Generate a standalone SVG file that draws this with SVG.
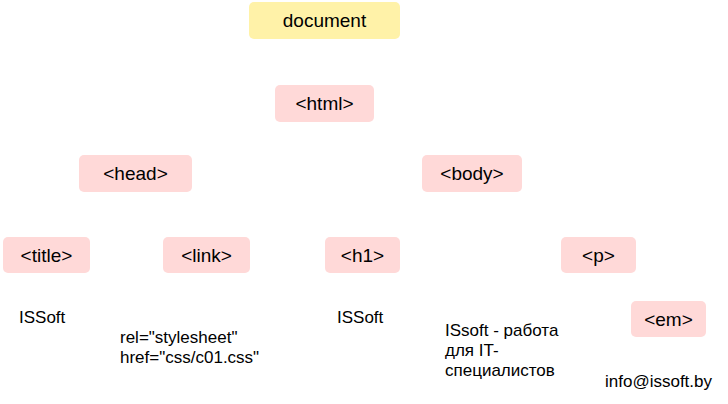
<svg xmlns="http://www.w3.org/2000/svg" width="728" height="404" viewBox="0 0 728 404">
<style>
.n{fill:#ffd9d8}
.d{fill:#fff2a8}
.l{font-family:"Liberation Sans",Arial,sans-serif;font-size:19px;fill:#000;text-anchor:middle}
.t{font-family:"Liberation Sans",Arial,sans-serif;font-size:17px;fill:#000}
</style>
<rect width="728" height="404" fill="#fff"/>
<g id="connectors"></g>
<g id="document"><rect class="d" x="249" y="2" width="151" height="37" rx="5"/><text class="l" x="324.5" y="27">document</text></g>
<g id="html"><rect class="n" x="275" y="85" width="99" height="37" rx="5"/><text class="l" x="324.5" y="110">&lt;html&gt;</text></g>
<g id="head"><rect class="n" x="79" y="155" width="113" height="37" rx="5"/><text class="l" x="135.5" y="180">&lt;head&gt;</text></g>
<g id="body"><rect class="n" x="422" y="155" width="100" height="37" rx="5"/><text class="l" x="472" y="180">&lt;body&gt;</text></g>
<g id="title"><rect class="n" x="3" y="237" width="87" height="36" rx="5"/><text class="l" x="46.5" y="262">&lt;title&gt;</text></g>
<g id="link"><rect class="n" x="163" y="237" width="87" height="36" rx="5"/><text class="l" x="206.5" y="262">&lt;link&gt;</text></g>
<g id="h1"><rect class="n" x="325" y="237" width="75" height="36" rx="5"/><text class="l" x="362.5" y="262">&lt;h1&gt;</text></g>
<g id="p"><rect class="n" x="561" y="237" width="75" height="36" rx="5"/><text class="l" x="598.5" y="262">&lt;p&gt;</text></g>
<g id="em"><rect class="n" x="631" y="301" width="75" height="36" rx="5"/><text class="l" x="668.5" y="326">&lt;em&gt;</text></g>
<g id="title-text"><text class="t" x="19" y="323">ISSoft</text></g>
<g id="link-text"><text class="t" x="120" y="343">rel="stylesheet"</text><text class="t" x="120" y="363">href="css/c01.css"</text></g>
<g id="h1-text"><text class="t" x="337" y="323">ISSoft</text></g>
<g id="p-text"><text class="t" x="445" y="336">ISsoft - работа</text><text class="t" x="445" y="356">для IT-</text><text class="t" x="445" y="376">специалистов</text></g>
<g id="em-text"><text class="t" x="605" y="387">info@issoft.by</text></g>
</svg>
